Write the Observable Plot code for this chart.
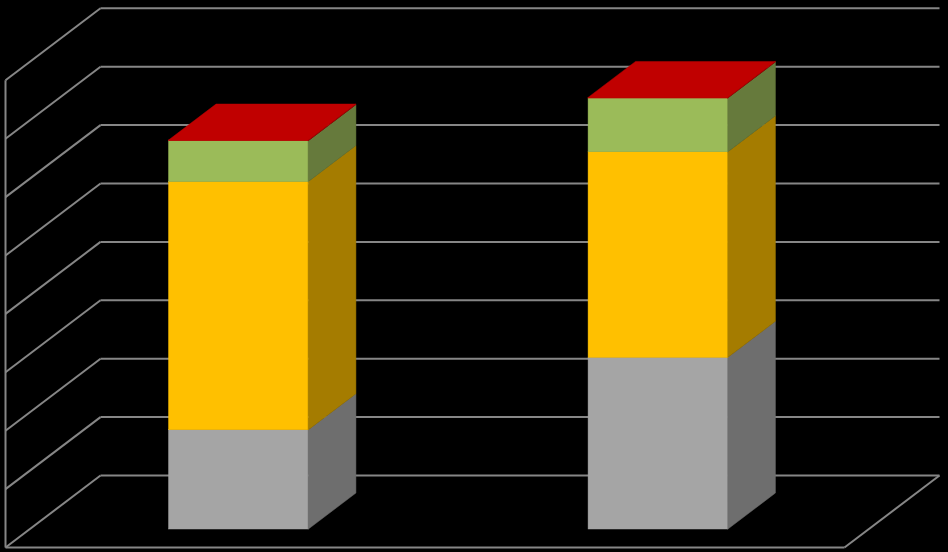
<!DOCTYPE html>
<html>
<head>
<meta charset="utf-8">
<script src="https://cdn.jsdelivr.net/npm/d3@7"></script>
<script src="https://cdn.jsdelivr.net/npm/@observablehq/plot@0.6"></script>
<style>
  html, body { margin: 0; padding: 0; background: #000; }
  #chart svg { display: block; }
</style>
</head>
<body>
<div id="chart"></div>
<script>
// ---- data (gridline step = 1 unit) ----
const categories = ["Category 1", "Category 2"];
const seriesNames = ["Series 1", "Series 2", "Series 3", "Series 4"];
const series1 = [1.70, 2.94];   // gray
const series2 = [4.25, 3.52];   // yellow
const series3 = [0.70, 0.92];   // green
const series4 = [0.01, 0.01];   // red (shows as top face)
const gridTicks = [0, 1, 2, 3, 4, 5, 6, 7, 8];

// ---- styles ----
const frontColors = ["#a5a5a5", "#ffc000", "#9bbb59", "#c00000"];
const sideColors  = ["#6e6e6e", "#a57c00", "#667a3c", "#8a0000"];
const gridColor = "#868686";
const gridWidth = 2;

// ---- 3D geometry (in data units) ----
const DX = 95 / 419.5;     // depth shift along x (category units)
const DY = 72 / 58.4;      // depth shift along y (value units)
const z0 = 0.25, z1 = 0.75; // bar depth extent
const barW = 1 / 3;        // gap width 200%

const allSeries = [series1, series2, series3, series4];
const segments = [];
categories.forEach((cat, i) => {
  let base = 0;
  allSeries.forEach((vals, s) => {
    const v = vals[i];
    segments.push({cat, c: i + 1, s, y0: base, y1: base + v});
    base += v;
  });
});
const tops = categories.map((cat, i) => {
  const segs = segments.filter(d => d.cat === cat);
  return segs[segs.length - 1];
});

const xl = d => d.c - barW / 2;
const xr = d => d.c + barW / 2;

const marks = [];

// grid: back wall lines
marks.push(Plot.link(gridTicks, {
  x1: 0.5 + DX, x2: 2.5 + DX, y1: d => d + DY, y2: d => d + DY,
  stroke: gridColor, strokeWidth: gridWidth
}));
// grid: left wall diagonals
marks.push(Plot.link(gridTicks, {
  x1: 0.5, y1: d => d, x2: 0.5 + DX, y2: d => d + DY,
  stroke: gridColor, strokeWidth: gridWidth
}));
// left axis vertical, floor front, floor right diagonal
const xMin = 0.5, xMax = categories.length + 0.5;
const yMax = gridTicks[gridTicks.length - 1];
marks.push(Plot.link([0], {
  x1: xMin, y1: 0, x2: xMin, y2: yMax, stroke: gridColor, strokeWidth: gridWidth
}));
marks.push(Plot.link([0], {
  x1: xMin, y1: 0, x2: xMax, y2: 0, stroke: gridColor, strokeWidth: gridWidth
}));
marks.push(Plot.link([0], {
  x1: xMax, y1: 0, x2: xMax + DX, y2: DY, stroke: gridColor, strokeWidth: gridWidth
}));

// bars
seriesNames.forEach((name, s) => {
  const segs = segments.filter(d => d.s === s);
  // front faces
  marks.push(Plot.rect(segs, {
    x1: d => xl(d) + z0 * DX, x2: d => xr(d) + z0 * DX,
    y1: d => d.y0 + z0 * DY, y2: d => d.y1 + z0 * DY,
    fill: frontColors[s], stroke: frontColors[s], strokeWidth: 0.5
  }));
  // side faces
  const sidePts = segs.flatMap((d, k) => [
    {k, x: xr(d) + z0 * DX, y1: d.y0 + z0 * DY, y2: d.y1 + z0 * DY},
    {k, x: xr(d) + z1 * DX, y1: d.y0 + z1 * DY, y2: d.y1 + z1 * DY}
  ]);
  marks.push(Plot.areaY(sidePts, {
    x: "x", y1: "y1", y2: "y2", z: "k",
    fill: sideColors[s], stroke: sideColors[s], strokeWidth: 0.5
  }));
});

// top faces (topmost segment of each bar)
const topPts = tops.flatMap((d, k) => [
  {k, s: d.s, y: d.y1 + z0 * DY, x1: xl(d) + z0 * DX, x2: xr(d) + z0 * DX},
  {k, s: d.s, y: d.y1 + z1 * DY, x1: xl(d) + z1 * DX, x2: xr(d) + z1 * DX}
]);
marks.push(Plot.areaX(topPts, {
  y: "y", x1: "x1", x2: "x2", z: "k",
  fill: frontColors[3], stroke: frontColors[3], strokeWidth: 0.5
}));

const chart = Plot.plot({
  width: 948,
  height: 552,
  margin: 0,
  style: {background: "#000"},
  x: {domain: [xMin, xMax], range: [5, 844], axis: null},
  y: {domain: [0, yMax], range: [547, 547 - yMax * 58.4], axis: null},
  marks
});
document.getElementById("chart").appendChild(chart);
</script>
</body>
</html>
